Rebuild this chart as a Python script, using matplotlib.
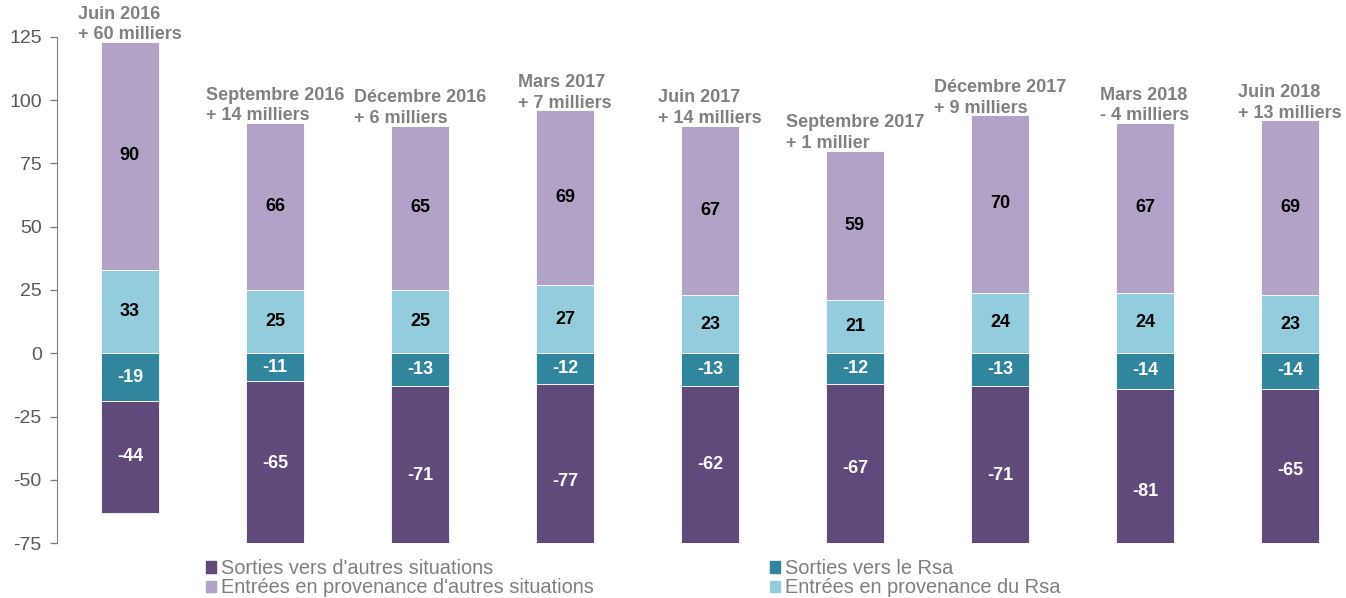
import matplotlib.pyplot as plt
from matplotlib.patches import Patch
import numpy as np

plt.rcParams['font.family'] = ['Liberation Sans', 'DejaVu Sans']
plt.rcParams['axes.unicode_minus'] = False

# ========================================
# Data
# ========================================
periods = ["Juin 2016", "Septembre 2016", "Décembre 2016", "Mars 2017", "Juin 2017",
           "Septembre 2017", "Décembre 2017", "Mars 2018", "Juin 2018"]
net_change = ["+ 60 milliers", "+ 14 milliers", "+ 6 milliers", "+ 7 milliers", "+ 14 milliers",
              "+ 1 millier", "+ 9 milliers", "- 4 milliers", "+ 13 milliers"]
sorties_autres = [-44, -65, -71, -77, -62, -67, -71, -81, -65]
sorties_rsa = [-19, -11, -13, -12, -13, -12, -13, -14, -14]
entrees_rsa = [33, 25, 25, 27, 23, 21, 24, 24, 23]
entrees_autres = [90, 66, 65, 69, 67, 59, 70, 67, 69]

C_SORT_AUT = "#604A7B"
C_SORT_RSA = "#31859C"
C_ENT_AUT = "#B3A2C7"
C_ENT_RSA = "#93CDDD"
GRAY = "#808080"

# ========================================
# Plot
# ========================================
W, H = 1346, 598
fig = plt.figure(figsize=(W / 100, H / 100), dpi=100)
ax = fig.add_axes([57 / W, 1 - 543 / H, (W - 57) / W, (543 - 37) / H])

x = np.arange(len(periods))
width = 0.4
sa = np.array(sorties_autres)
sr = np.array(sorties_rsa)
er = np.array(entrees_rsa)
ea = np.array(entrees_autres)

ax.bar(x, sr, width, color=C_SORT_RSA, edgecolor="white", linewidth=0.6)
ax.bar(x, sa, width, bottom=sr, color=C_SORT_AUT, edgecolor="white", linewidth=0.6)
ax.bar(x, er, width, color=C_ENT_RSA, edgecolor="white", linewidth=0.6)
ax.bar(x, ea, width, bottom=er, color=C_ENT_AUT, edgecolor="white", linewidth=0.6)

fs = 13
for i in range(len(x)):
    ax.text(x[i], sr[i] / 2, str(sr[i]), ha="center", va="center", color="white",
            fontsize=fs, fontweight="bold")
    ax.text(x[i], sr[i] + sa[i] / 2, str(sa[i]), ha="center", va="center", color="white",
            fontsize=fs, fontweight="bold")
    ax.text(x[i], er[i] / 2, str(er[i]), ha="center", va="center", color="black",
            fontsize=fs, fontweight="bold")
    ax.text(x[i], er[i] + ea[i] / 2, str(ea[i]), ha="center", va="center", color="black",
            fontsize=fs, fontweight="bold")
    ax.annotate(f"{periods[i]}\n{net_change[i]}", (x[i], er[i] + ea[i]),
                xytext=(0, -1), textcoords="offset points", ha="center", va="bottom",
                multialignment="left", color=GRAY, fontsize=fs, fontweight="bold",
                linespacing=1.3, annotation_clip=False)

ax.set_ylim(-75, 125)
ax.set_yticks(range(-75, 126, 25))
ax.set_xlim(-0.503, -0.503 + (W - 57) / 145)
ax.set_xticks([])
for s in ["top", "right", "bottom"]:
    ax.spines[s].set_visible(False)
ax.spines["left"].set_color(GRAY)
ax.tick_params(axis="y", colors=GRAY, labelsize=fs + 1, length=5, width=1, pad=6)
ax.tick_params(axis="y", labelcolor="#595959")

leg_kw = dict(frameon=False, fontsize=fs + 1.4, handlelength=0.5, handleheight=0.5,
              handletextpad=0.25, labelspacing=0.02, borderpad=0, labelcolor="#7f7f7f")
fig.legend(handles=[Patch(color=C_SORT_AUT, label="Sorties vers d'autres situations"),
                    Patch(color=C_ENT_AUT, label="Entrées en provenance d'autres situations")],
           loc="upper left", bbox_to_anchor=(196 / W, 1 - 549 / H), **leg_kw)
fig.legend(handles=[Patch(color=C_SORT_RSA, label="Sorties vers le Rsa"),
                    Patch(color=C_ENT_RSA, label="Entrées en provenance du Rsa")],
           loc="upper left", bbox_to_anchor=(760 / W, 1 - 549 / H), **leg_kw)

fig.savefig("out.png", dpi=100)
